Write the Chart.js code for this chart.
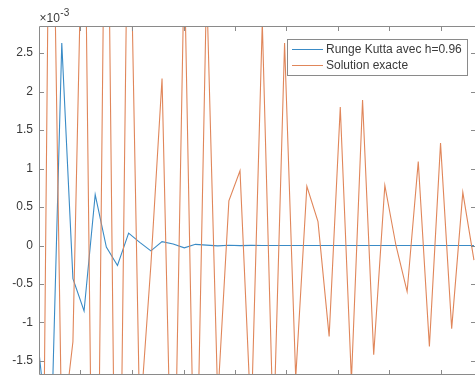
<!DOCTYPE html>
<html>
<head>
<meta charset="utf-8">
<script src="https://cdn.jsdelivr.net/npm/chart.js@4.4.1/dist/chart.umd.min.js"></script>
<style>
  html, body { margin: 0; padding: 0; background: #ffffff; overflow: hidden; }
  canvas { display: block; }
</style>
</head>
<body>
<canvas id="c" width="475" height="383"></canvas>
<script>
// Sample times (step h = 0.96)
const times = [0, 0.96, 1.92, 2.88, 3.84, 4.8, 5.76, 6.72, 7.68, 8.64,
               9.6, 10.56, 11.52, 12.48, 13.44, 14.4, 15.36, 16.32, 17.28, 18.24,
               19.2, 20.16, 21.12, 22.08, 23.04, 24, 24.96, 25.92, 26.88, 27.84,
               28.8, 29.76, 30.72, 31.68, 32.64, 33.6, 34.56, 35.52, 36.48, 37.44];

// Values in units of 1e-3 (axis exponent x10^-3)
const rungeKutta = [-1.45, -2.8, 2.63, -0.43, -0.85, 0.66, -0.02, -0.26, 0.16, 0.04,
                    -0.07, 0.05, 0.02, -0.03, 0.015, 0.005, -0.005, 0.003, -0.002, 0.001,
                    0, 0, 0, 0, 0, 0, 0, 0, 0, 0,
                    0, 0, 0, 0, 0, 0, 0, 0, 0, 0];

const exacte = [-8.5, 6.9, -2.5, -1.25, 5.5, -7.0, 6.8, -6.5, 5.5, -2.3,
                -0.25, 2.17, -4.2, 3.7, -4.0, 3.4, -2.0, 0.58, 0.97, -2.3,
                2.9, -2.5, 2.63, -1.72, 0.77, 0.31, -1.18, 1.8, -1.75, 1.89,
                -1.42, 0.78, 0.0, -0.6, 1.09, -1.31, 1.33, -1.08, 0.69, -0.19];

const yTicks = [-1.5, -1, -0.5, 0, 0.5, 1, 1.5, 2, 2.5];
const xTicks = [3.53, 7.97, 12.41, 16.84, 21.28, 25.72, 30.16, 34.59];
const seriesLabels = ['Runge Kutta avec h=0.96', 'Solution exacte'];
const exponentBase = '\u00D710';
const exponentPower = '-3';

const FONT = 'Liberation Sans, Arial, Helvetica, sans-serif';
const AXIS_COLOR = '#8a8a8a';
const TEXT_COLOR = '#3a3a3a';
const AREA = { top: 27, bottom: 374 };

const boxPlugin = {
  id: 'matlabBox',
  afterDatasetsDraw(chart) {
    const { ctx, scales } = chart;
    const xs = scales.x, ys = scales.y;
    const L = 39.5, T = 26.5, B = 374.5, R = 475.5;
    ctx.save();
    ctx.strokeStyle = AXIS_COLOR;
    ctx.lineWidth = 1;
    ctx.beginPath();
    ctx.moveTo(L, B); ctx.lineTo(L, T); ctx.lineTo(R, T);
    ctx.moveTo(L, B); ctx.lineTo(R, B);
    yTicks.forEach(v => {
      const py = Math.round(ys.getPixelForValue(v)) + 0.5;
      ctx.moveTo(L, py); ctx.lineTo(L + 4.5, py);
      ctx.moveTo(R, py); ctx.lineTo(R - 4.5, py);
    });
    xTicks.forEach(v => {
      const px = Math.round(xs.getPixelForValue(v)) + 0.5;
      ctx.moveTo(px, T); ctx.lineTo(px, T + 4.5);
      ctx.moveTo(px, B); ctx.lineTo(px, B - 4.5);
    });
    ctx.stroke();

    ctx.fillStyle = TEXT_COLOR;
    ctx.textBaseline = 'alphabetic';
    ctx.textAlign = 'left';
    ctx.font = '12px ' + FONT;
    ctx.fillText(exponentBase, 39.5, 22);
    const w = ctx.measureText(exponentBase).width;
    ctx.font = '10px ' + FONT;
    ctx.fillText(exponentPower, 39.5 + w + 0.5, 16);
    ctx.restore();
  },
  afterDraw(chart) {
    const { ctx } = chart;
    const ds = chart.data.datasets;
    ctx.save();
    const bx = 287.5, by = 39.5, bw = 180, bh = 36;
    ctx.fillStyle = '#ffffff';
    ctx.fillRect(bx, by, bw, bh);
    ctx.strokeStyle = AXIS_COLOR;
    ctx.lineWidth = 1;
    ctx.strokeRect(bx, by, bw, bh);
    ctx.font = '12px ' + FONT;
    ctx.textBaseline = 'middle';
    ctx.textAlign = 'left';
    const rows = [49.5, 65.5];
    ds.forEach((d, i) => {
      ctx.strokeStyle = d.borderColor;
      ctx.lineWidth = 1;
      ctx.beginPath();
      ctx.moveTo(292, rows[i]);
      ctx.lineTo(323, rows[i]);
      ctx.stroke();
      ctx.fillStyle = TEXT_COLOR;
      ctx.fillText(d.label, 326, rows[i] + 0.5);
    });
    ctx.restore();
  }
};

const ctx = document.getElementById('c').getContext('2d');
const chart = new Chart(ctx, {
  type: 'line',
  data: {
    datasets: [
      { label: seriesLabels[0], data: times.map((t, i) => ({ x: t, y: rungeKutta[i] })),
        borderColor: '#3A8BC6', borderWidth: 1.1, pointRadius: 0, tension: 0, order: 1 },
      { label: seriesLabels[1], data: times.map((t, i) => ({ x: t, y: exacte[i] })),
        borderColor: '#E0865A', borderWidth: 1.1, pointRadius: 0, tension: 0, order: 0 }
    ]
  },
  options: {
    responsive: false, animation: false, events: [],
    layout: { autoPadding: false, padding: { top: AREA.top, bottom: 383 - AREA.bottom, left: 0, right: 0 } },
    plugins: { legend: { display: false }, tooltip: { enabled: false } },
    scales: {
      x: { type: 'linear', min: 0, max: 37.53,
        ticks: { display: false }, grid: { display: false, drawTicks: false }, border: { display: false },
        afterBuildTicks(s) { s.ticks = xTicks.map(v => ({ value: v })); },
        afterFit(s) { s.height = 0; s.paddingLeft = 0; s.paddingRight = 0; s.paddingTop = 0; s.paddingBottom = 0; } },
      y: { type: 'linear', min: -1.669, max: 2.838,
        ticks: { font: { family: FONT, size: 12 }, color: TEXT_COLOR, padding: 6.5, callback: v => String(v) },
        grid: { display: false, drawTicks: false }, border: { display: false },
        afterBuildTicks(s) { s.ticks = yTicks.map(v => ({ value: v })); },
        afterFit(s) { s.width = 39.5; s.paddingTop = 0; s.paddingBottom = 0; s.paddingLeft = 0; s.paddingRight = 0; } }
    }
  },
  plugins: [boxPlugin]
});

// Make sure the plot area sits exactly where the reference has it
const a = chart.chartArea;
const dTop = a.top - AREA.top, dBottom = a.bottom - AREA.bottom;
if (Math.abs(dTop) > 0.2 || Math.abs(dBottom) > 0.2) {
  chart.options.layout.padding.top -= dTop;
  chart.options.layout.padding.bottom += dBottom;
  chart.update();
}
</script>
</body>
</html>
